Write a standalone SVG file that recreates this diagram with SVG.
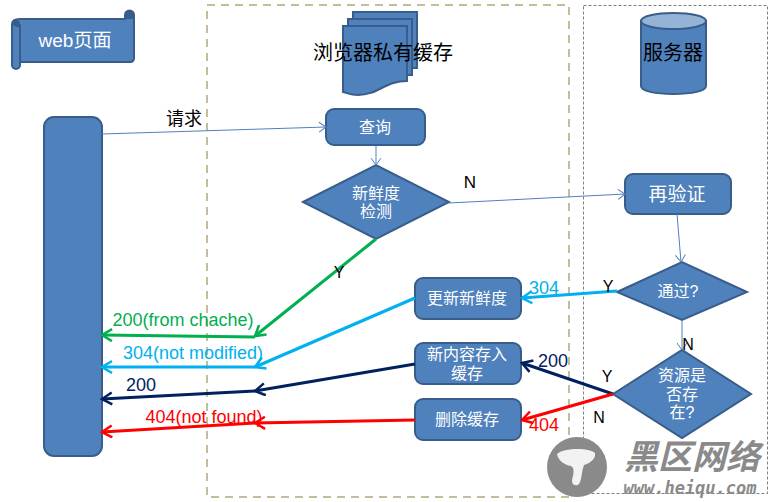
<svg xmlns="http://www.w3.org/2000/svg" width="779" height="502" viewBox="0 0 779 502">
<style>
text{font-family:"Liberation Sans","Noto Sans CJK SC",sans-serif;text-anchor:middle}
.n{fill:#4f81bd;stroke:#385d8a;stroke-width:2}
.w{fill:#fff;font-size:16px}
.k{fill:#000;font-size:20px}
.thin{fill:none;stroke:#4f81bd;stroke-width:1}
.c{fill:none;stroke-width:3}
.lb{font-size:18px}
.l{font-size:16px;fill:#000}
</style>
<defs>
<marker id="ao" markerUnits="userSpaceOnUse" markerWidth="10" markerHeight="14" refX="8" refY="6" orient="auto"><path d="M1 1L8 6L1 11" fill="none" stroke="#4f81bd"/></marker>
<marker id="ag" markerUnits="userSpaceOnUse" markerWidth="14" markerHeight="16" refX="11" refY="7" orient="auto"><path d="M1 1L11 7L1 13" fill="none" stroke="#00b050" stroke-width="2.5"/></marker>
<marker id="ab" markerUnits="userSpaceOnUse" markerWidth="14" markerHeight="16" refX="11" refY="7" orient="auto"><path d="M1 1L11 7L1 13" fill="none" stroke="#00b0f0" stroke-width="2.5"/></marker>
<marker id="an" markerUnits="userSpaceOnUse" markerWidth="14" markerHeight="16" refX="11" refY="7" orient="auto"><path d="M1 1L11 7L1 13" fill="none" stroke="#002060" stroke-width="2.5"/></marker>
<marker id="ar" markerUnits="userSpaceOnUse" markerWidth="14" markerHeight="16" refX="11" refY="7" orient="auto"><path d="M1 1L11 7L1 13" fill="none" stroke="#f00" stroke-width="2.5"/></marker>
</defs>
<rect width="779" height="502" fill="#fff"/>
<rect id="browser-zone" x="207" y="5" width="362" height="492" fill="none" stroke="#c4bd97" stroke-width="2" stroke-dasharray="8 6"/>
<rect id="server-zone" x="583.500" y="5.500" width="184" height="488" fill="none" stroke="#7f7f7f" stroke-dasharray="3 2"/>

<g id="watermark">
<circle cx="577" cy="467" r="30" fill="#8a8a8a"/>
<path d="M557 454C563 448 588 447 595 453C596 459 590 463 584 465C581 473 582 482 578 485C572 486 571 482 573 476C574 471 574 468 571 466C564 465 558 460 557 454Z" fill="#f2f2f2"/>
<text x="692" y="469" style="font-size:34px;font-weight:bold;font-style:italic" fill="#8a8a8a">黑区网络</text>
<text x="690" y="494" style="font-size:17px;font-weight:bold;font-style:italic;font-family:'DejaVu Sans Mono','Liberation Mono',monospace" fill="#8a8a8a">www.heiqu.com</text>
</g>

<g id="web-page">
<path class="n" d="M20 19H125V15A4.500 4.500 0 0 1 134 15V58Q134 62 130 62H20V65A4 4 0 0 1 12 65V24Q12 19 20 19Z"/>
<path d="M12 24A4 4 0 0 1 20 24V27H16Z M125 19V15A4.500 4.500 0 0 1 134 15V19Z" fill="#385d8a"/>
<path d="M20 24V62" fill="none" stroke="#385d8a" stroke-width="2"/>
<text x="75" y="47" fill="#fff" style="font-size:19px">web页面</text>
</g>
<g id="client"><rect class="n" x="44" y="117" width="58" height="339" rx="10"/></g>

<g id="browser-cache">
<rect class="n" x="353" y="12" width="64" height="56"/>
<rect class="n" x="348" y="19" width="64" height="56"/>
<path class="n" d="M343 26H407V81C385 81 378 95 358 95C352 95 347 93 343 92Z"/>
<text class="k" x="383" y="60">浏览器私有缓存</text>
</g>
<g id="server">
<path class="n" d="M641 21V86C641 91 655 94 673.500 94C692 94 706 91 706 86V21Z"/>
<ellipse cx="673.500" cy="21" rx="32.500" ry="8" fill="#95b3d7" stroke="#385d8a" stroke-width="2"/>
<text class="k" x="673" y="60">服务器</text>
</g>
<g id="query"><rect class="n" x="326" y="109" width="99" height="36" rx="8"/><text class="w" x="375" y="133">查询</text></g>
<g id="freshness"><path class="n" d="M303 202L376 165L449 202L376 239Z"/><text class="w" x="376" y="199">新鲜度</text><text class="w" x="376" y="217">检测</text></g>
<g id="revalidate"><rect class="n" x="625" y="174" width="106" height="40" rx="8"/><text x="677" y="201" fill="#fff" style="font-size:19px">再验证</text></g>
<g id="pass"><path class="n" d="M617 292L682 262L747 292L682 320Z"/><text class="w" x="678" y="297">通过?</text></g>
<g id="exists"><path class="n" d="M613 394L682 350L751 394L682 438Z"/><text class="w" x="682" y="381">资源是</text><text class="w" x="682" y="400">否存</text><text class="w" x="682" y="418">在?</text></g>
<g id="update"><rect class="n" x="415" y="278" width="106" height="41" rx="8"/><text class="w" x="467" y="304">更新新鲜度</text></g>
<g id="store"><rect class="n" x="415" y="343" width="106" height="41" rx="8"/><text class="w" x="467" y="360">新内容存入</text><text class="w" x="467" y="379">缓存</text></g>
<g id="delete"><rect class="n" x="415" y="399" width="106" height="41" rx="8"/><text class="w" x="467" y="425">删除缓存</text></g>

<g id="connectors">
<path class="thin" d="M102 134L326 127" marker-end="url(#ao)"/>
<path class="thin" d="M376 145V165" marker-end="url(#ao)"/>
<path class="thin" d="M449 203L625 194" marker-end="url(#ao)"/>
<path class="thin" d="M677 214L681 262" marker-end="url(#ao)"/>
<path class="thin" d="M682 320V350" marker-end="url(#ao)"/>
<path class="c" stroke="#00b050" d="M376 239L255 336" marker-end="url(#ag)"/>
<path class="c" stroke="#00b050" d="M255 337L102 335" marker-end="url(#ag)"/>
<path class="c" stroke="#00b0f0" d="M415 298L255 367" marker-end="url(#ab)"/>
<path class="c" stroke="#00b0f0" d="M255 367H102" marker-end="url(#ab)"/>
<path class="c" stroke="#002060" d="M415 364L255 391" marker-end="url(#an)"/>
<path class="c" stroke="#002060" d="M255 391L102 399" marker-end="url(#an)"/>
<path class="c" stroke="#f00" d="M415 420L255 423" marker-end="url(#ar)"/>
<path class="c" stroke="#f00" d="M255 423L102 432" marker-end="url(#ar)"/>
<path class="c" stroke="#00b0f0" d="M617 291L522 298" marker-end="url(#ab)"/>
<path class="c" stroke="#002060" d="M613 394L522 363" marker-end="url(#an)"/>
<path class="c" stroke="#f00" d="M613 394L522 420" marker-end="url(#ar)"/>
</g>

<g id="labels">
<text x="184" y="125" style="font-size:18px" fill="#000">请求</text>
<text class="l" x="470" y="188" style="font-size:17px">N</text>
<text class="l" x="339" y="278">Y</text>
<text class="lb" x="183" y="326" fill="#00b050">200(from chache)</text>
<text class="lb" x="193" y="359" fill="#00b0f0">304(not modified)</text>
<text class="lb" x="141" y="391" fill="#002060">200</text>
<text class="lb" x="204" y="423" fill="#f00">404(not found)</text>
<text class="lb" x="544" y="294" fill="#00b0f0">304</text>
<text class="lb" x="553" y="367" fill="#002060">200</text>
<text class="lb" x="544" y="431" fill="#f00">404</text>
<text class="l" x="608" y="292">Y</text>
<text class="l" x="688" y="350">N</text>
<text class="l" x="607" y="382">Y</text>
<text class="l" x="599" y="423">N</text>
</g>
</svg>
